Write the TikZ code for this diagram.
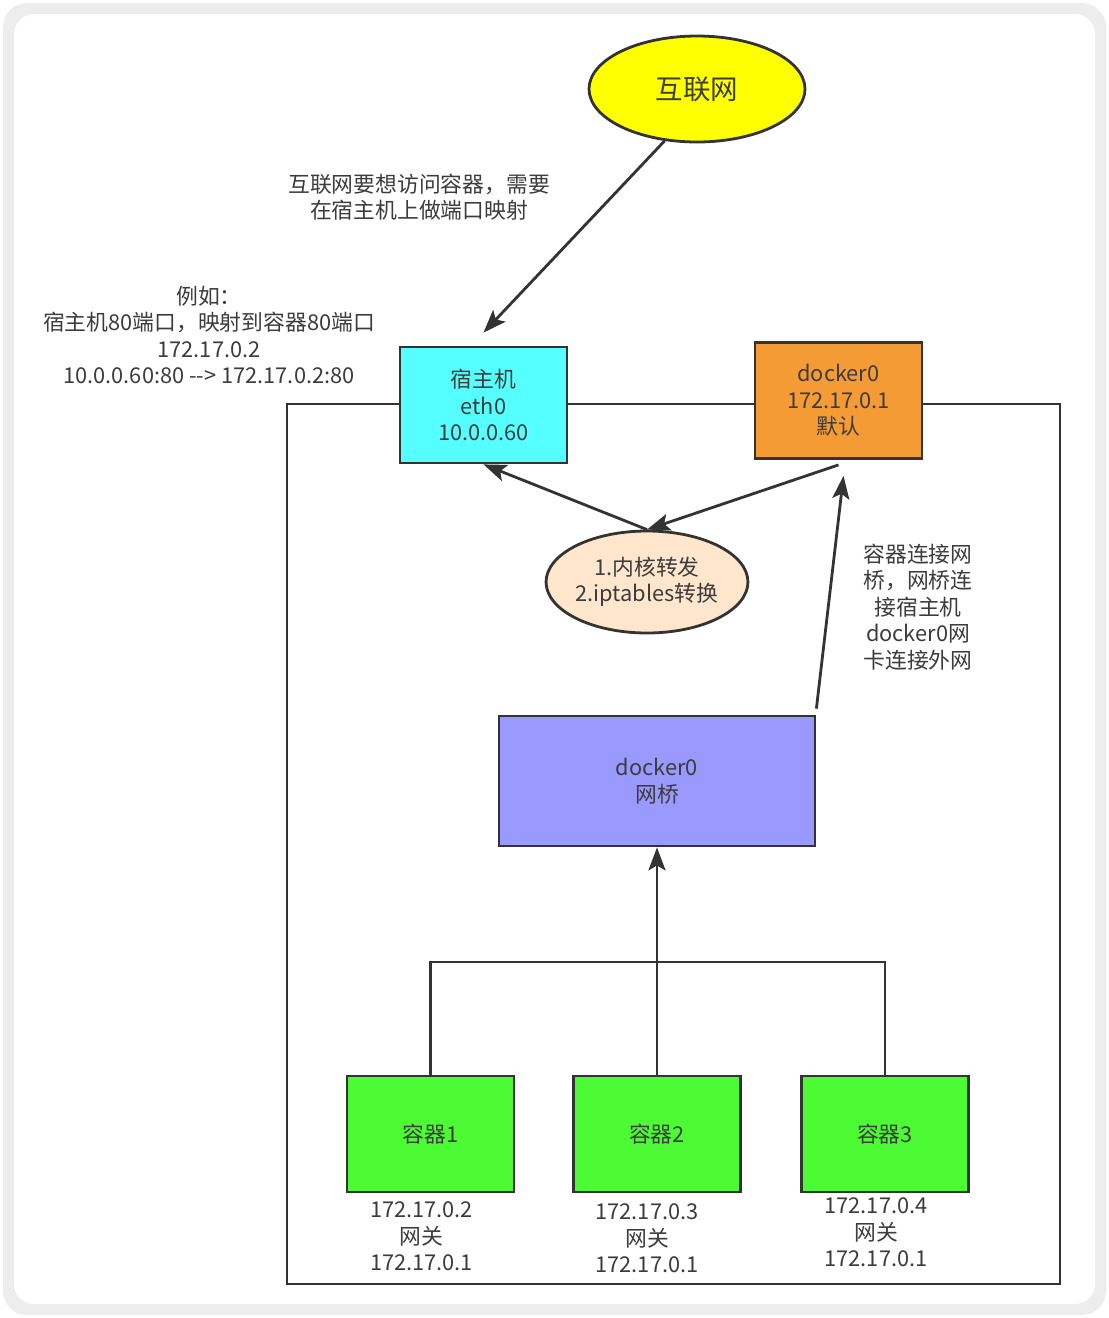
\documentclass[tikz,border=0pt]{standalone}
\usepackage{fontspec}
\setmainfont{Noto Sans CJK SC}
\usetikzlibrary{positioning,arrows.meta,shapes.geometric}

\definecolor{linegray}{HTML}{333333}
\definecolor{txtgray}{HTML}{3C3C3C}
\definecolor{inetyellow}{HTML}{FFFF00}
\definecolor{hostcyan}{HTML}{55FFFF}
\definecolor{dockorange}{HTML}{F59B35}
\definecolor{kernpeach}{HTML}{FFE6CC}
\definecolor{bridgeblue}{HTML}{9999FF}
\definecolor{ctgreen}{HTML}{4CFB33}

\tikzset{
    every node/.style={text=txtgray, font=\fontsize{21.8}{26.5}\selectfont},
    box/.style={draw=linegray, line width=2.8pt, minimum width=167pt, minimum height=116pt, align=center},
    oval/.style={ellipse, draw=linegray, line width=2.8pt, inner sep=0pt, align=center},
    wire/.style={draw=linegray, line width=2.8pt},
    arr/.style={wire, -{Stealth[length=23pt, width=17pt, inset=5pt]}},
    note/.style={align=center}
}

\begin{document}
\begin{tikzpicture}[x=1pt, y=-1pt]
        \useasboundingbox (0,0) rectangle (1109,1318);
        % card
        \fill[gray!14, rounded corners=24pt] (3,3) rectangle (1106,1315);
        \fill[white, rounded corners=20pt] (14,14) rectangle (1095,1304);

        \draw[wire] (287,404) rectangle (1060,1284);

        \node[oval, fill=inetyellow, minimum width=216pt, minimum height=106pt,
              font=\fontsize{27.5}{32}\selectfont] (inet) at (697,89) {互联网};
        \node[box, fill=hostcyan] (host) at (483.5,405) {宿主机\\eth0\\10.0.0.60};
        \node[box, fill=dockorange] (dock) at (838.5,400.5) {docker0\\172.17.0.1\\默认};
        \node[oval, fill=kernpeach, minimum width=197pt, minimum height=102pt] (kern) at (647,582)
              {1.内核转发\\2.iptables转换};
        \node[box, fill=bridgeblue, minimum width=316pt, minimum height=130pt] (bridge) at (657,781)
              {docker0\\网桥};

        \node[box, fill=ctgreen] (c1) at (430.5,1134) {容器1};
        \node[box, fill=ctgreen] (c2) at (657,1134) {容器2};
        \node[box, fill=ctgreen] (c3) at (885,1134) {容器3};

        \node[note, below=5pt of c1, xshift=-9pt] (ip1) {172.17.0.2\\网关\\172.17.0.1};
        \node[note, below=7pt of c2, xshift=-10pt] (ip2) {172.17.0.3\\网关\\172.17.0.1};
        \node[note, below=1pt of c3, xshift=-9pt] (ip3) {172.17.0.4\\网关\\172.17.0.1};

        \node[note] (why) at (419,197) {互联网要想访问容器，需要\\在宿主机上做端口映射};
        \node[note] (eg) at (209,335)
              {例如：\\宿主机80端口，映射到容器80端口\\172.17.0.2\\10.0.0.60:80 {-}{-}> 172.17.0.2:80};
        \node[note] (link) at (918,607) {容器连接网\\桥，网桥连\\接宿主机\\docker0网\\卡连接外网};

        \coordinate (junc) at (657,962);

        \draw[arr] (inet.238) -- ([yshift=13pt]host.north);
        \draw[arr] (kern.north) -- (host.south);
        \draw[arr] ([yshift=-5pt]dock.south) -- (kern.north);
        \draw[arr] ([yshift=6pt]bridge.north east) -- ([xshift=5pt, yshift=-16pt]dock.south);
        \draw[arr] (junc) -- (bridge.south);
        \draw[wire] (c1.north) |- (junc) -| (c3.north);
        \draw[wire] (c2.north) -- (junc);
\end{tikzpicture}
\end{document}
